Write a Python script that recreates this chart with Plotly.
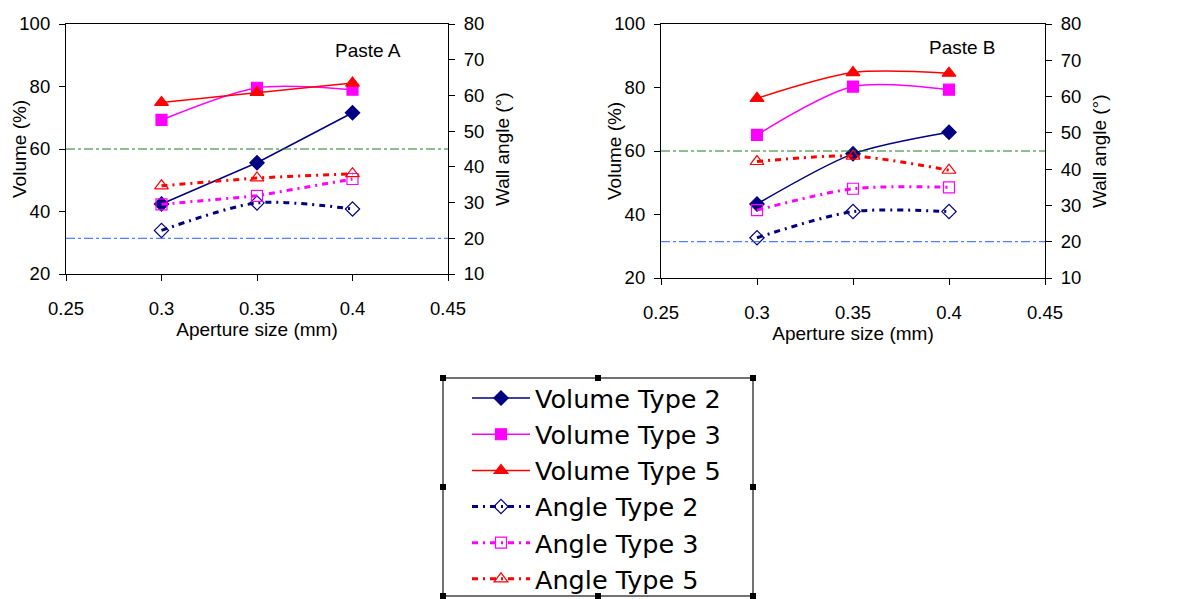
import plotly.graph_objects as go

# Aperture sizes (mm)
aperture = [0.3, 0.35, 0.4]

# Paste A: deposited volume (%) and wall angle (deg)
a_vol_t2 = [42.4, 55.6, 71.6]
a_vol_t3 = [69.3, 79.6, 79.0]
a_vol_t5 = [74.9, 78.1, 81.1]
a_ang_t2 = [22.2, 29.9, 28.2]
a_ang_t3 = [29.5, 31.9, 36.6]
a_ang_t5 = [34.7, 36.9, 38.1]

# Paste B
b_vol_t2 = [43.3, 59.1, 65.9]
b_vol_t3 = [65.1, 80.3, 79.3]
b_vol_t5 = [76.6, 84.7, 84.5]
b_ang_t2 = [21.1, 28.3, 28.3]
b_ang_t3 = [28.7, 34.6, 35.0]
b_ang_t5 = [42.1, 43.6, 39.7]

# Reference levels
vol_ref = 60
ang_ref = 20

series_names = ["Volume Type 2", "Volume Type 3", "Volume Type 5",
                "Angle Type 2", "Angle Type 3", "Angle Type 5"]
panel_titles = ["Paste A", "Paste B"]

NAVY, MAGENTA, RED = "#000080", "#FF00FF", "#FF0000"
FONT = "Liberation Sans, Arial, sans-serif"
LEGEND_FONT = "DejaVu Sans, Liberation Sans, sans-serif"
W, H = 1178, 599
ANGLE_DASH = "6px,5px,2px,5px"

styles = [
    dict(color=NAVY, symbol="diamond", dash="solid", width=1.5, size=11),
    dict(color=MAGENTA, symbol="square", dash="solid", width=1.5, size=11),
    dict(color=RED, symbol="triangle-up", dash="solid", width=1.5, size=12),
    dict(color=NAVY, symbol="diamond-open", dash=ANGLE_DASH, width=3, size=11),
    dict(color=MAGENTA, symbol="square-open", dash=ANGLE_DASH, width=3, size=11),
    dict(color=RED, symbol="triangle-up-open", dash=ANGLE_DASH, width=3, size=12),
]

panels = [
    dict(data=[a_vol_t2, a_vol_t3, a_vol_t5, a_ang_t2, a_ang_t3, a_ang_t5],
         smooth=[False, True, False, True, False, False],
         xa="x", yv="y", ya="y2"),
    dict(data=[b_vol_t2, b_vol_t3, b_vol_t5, b_ang_t2, b_ang_t3, b_ang_t5],
         smooth=[True, True, True, True, True, True],
         xa="x2", yv="y3", ya="y4"),
]

fig = go.Figure()
for p_i, p in enumerate(panels):
    for s_i, (name, vals, st, sm) in enumerate(zip(series_names, p["data"], styles, p["smooth"])):
        is_angle = s_i >= 3
        fig.add_trace(go.Scatter(
            x=aperture, y=vals, name=name, mode="lines+markers",
            xaxis=p["xa"], yaxis=p["ya"] if is_angle else p["yv"],
            line=dict(color=st["color"], width=st["width"], dash=st["dash"],
                      shape="spline" if sm else "linear", smoothing=0.8),
            marker=dict(symbol=st["symbol"], size=st["size"], color=st["color"],
                        line=dict(color=st["color"], width=1.2)),
            showlegend=(p_i == 0), legendrank=s_i + 1,
        ))

axis_common = dict(showline=True, linecolor="black", linewidth=1.2,
                   ticks="outside", ticklen=6, tickcolor="black",
                   showgrid=False, zeroline=False, automargin=False,
                   tickfont=dict(family=FONT, size=18.5, color="black"))

xdoms = [[66 / W, 448 / W], [661 / W, 1045 / W]]
ydoms = [[1 - 274 / H, 1 - 24 / H], [1 - 278 / H, 1 - 24 / H]]

layout = dict(
    width=W, height=H,
    margin=dict(l=0, r=0, t=0, b=0, autoexpand=False),
    paper_bgcolor="white", plot_bgcolor="white",
    font=dict(family=FONT, color="black"),
    showlegend=True,
    legend=dict(x=467 / W, y=1 - 375 / H, xanchor="left", yanchor="top",
                borderwidth=0, bgcolor="rgba(0,0,0,0)",
                font=dict(family=LEGEND_FONT, size=25.5, color="black"),
                tracegroupgap=0, itemwidth=58, traceorder="normal"),
)

for i in range(2):
    xk = "xaxis" if i == 0 else "xaxis2"
    yv = "yaxis" if i == 0 else "yaxis3"
    ya = "yaxis2" if i == 0 else "yaxis4"
    yv_id = "y" if i == 0 else "y3"
    x_id = "x" if i == 0 else "x2"
    layout[xk] = dict(axis_common, domain=xdoms[i], anchor=yv_id,
                      range=[0.25, 0.45], tickvals=[0.25, 0.3, 0.35, 0.4, 0.45],
                      ticktext=["0.25", "0.3", "0.35", "0.4", "0.45"],
                      mirror=True, ticklabelstandoff=12,
                      title=dict(text="Aperture size (mm)", standoff=2,
                                 font=dict(family=FONT, size=19)))
    layout[yv] = dict(axis_common, domain=ydoms[i], anchor=x_id,
                      range=[20, 100], tickvals=[20, 40, 60, 80, 100],
                      ticklabelstandoff=5)
    layout[ya] = dict(axis_common, overlaying=yv_id, anchor=x_id, side="right",
                      range=[10, 80], tickvals=[10, 20, 30, 40, 50, 60, 70, 80],
                      ticklabelstandoff=5)

fig.update_layout(**layout)

# Reference levels, panel labels and vertical axis titles
shapes = []
annotations = []
label_pos = [(0.79, 0.892), (0.786, 0.906)]
vol_title_x = [20, 615]
ang_title_x = [503, 1100]
for i in range(2):
    x_id = "x" if i == 0 else "x2"
    yv_id = "y" if i == 0 else "y3"
    ya_id = "y2" if i == 0 else "y4"
    shapes.append(dict(type="line", xref=f"{x_id} domain", x0=0, x1=1,
                       yref=yv_id, y0=vol_ref, y1=vol_ref,
                       line=dict(color="#1E7B1E", width=1, dash="dashdot")))
    shapes.append(dict(type="line", xref=f"{x_id} domain", x0=0, x1=1,
                       yref=ya_id, y0=ang_ref, y1=ang_ref,
                       line=dict(color="#2A5CFF", width=1, dash="dashdot")))
    annotations.append(dict(text=panel_titles[i], xref=f"{x_id} domain", yref=f"{yv_id} domain",
                            x=label_pos[i][0], y=label_pos[i][1], showarrow=False,
                            xanchor="center", yanchor="middle",
                            font=dict(family=FONT, size=19, color="black")))
    annotations.append(dict(text="Volume (%)", xref="paper", yref=f"{yv_id} domain",
                            x=vol_title_x[i] / W, y=0.5, textangle=-90, showarrow=False,
                            xanchor="center", yanchor="middle",
                            font=dict(family=FONT, size=19, color="black")))
    annotations.append(dict(text="Wall angle (°)", xref="paper", yref=f"{yv_id} domain",
                            x=ang_title_x[i] / W, y=0.5, textangle=-90, showarrow=False,
                            xanchor="center", yanchor="middle",
                            font=dict(family=FONT, size=19, color="black")))

# Legend frame with selection handles
shapes.append(dict(type="rect", xref="paper", yref="paper",
                   x0=443 / W, x1=753 / W, y0=1 - 596 / H, y1=1 - 378 / H,
                   line=dict(color="#444444", width=1.5), layer="below"))
hx = [443, 598, 753]
hy = [378, 487, 596]
for px in hx:
    for py in hy:
        if px == 598 and py == 487:
            continue
        shapes.append(dict(type="rect", xref="paper", yref="paper",
                           x0=(px - 3) / W, x1=(px + 3) / W,
                           y0=1 - (py + 3) / H, y1=1 - (py - 3) / H,
                           fillcolor="black", line=dict(width=0)))

fig.update_layout(shapes=shapes, annotations=annotations)
fig.write_html("out.html")
